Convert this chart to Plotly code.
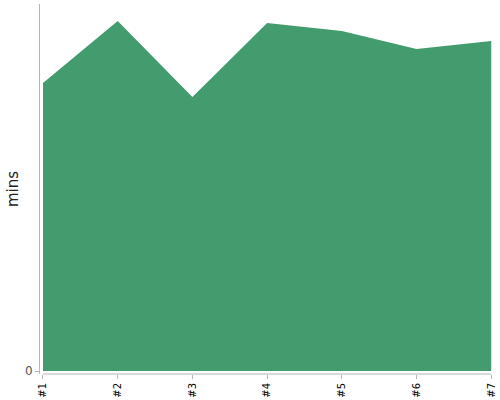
import plotly.graph_objects as go

# datos (minutos)
categorias = ["#1", "#2", "#3", "#4", "#5", "#6", "#7"]
minutos = [28.8, 35.0, 27.4, 34.8, 34.0, 32.2, 33.0]

verde = "#439c6d"
gris = "#b5b5b5"

fig = go.Figure(go.Scatter(
    x=categorias, y=minutos,
    mode="lines", fill="tozeroy",
    fillcolor=verde, line=dict(color=verde, width=0),
    hoverinfo="x+y",
))

# linea del eje x separada del eje y
fig.add_shape(type="line", xref="x", yref="paper",
              x0=0, x1=6, y0=0, y1=0,
              line=dict(color=gris, width=1))

fig.update_layout(
    width=500, height=400,
    margin=dict(l=40, r=8, t=4, b=26),
    plot_bgcolor="white", paper_bgcolor="white",
    showlegend=False,
    font=dict(family="DejaVu Sans"),
)
fig.update_xaxes(
    type="category", range=[-0.04, 6.01],
    showgrid=False, zeroline=False, showline=False,
    ticks="outside", ticklen=4, tickcolor=gris,
    tickangle=-90, tickfont=dict(size=10, color="black"),
    automargin=False,
)
fig.update_yaxes(
    range=[-0.3, 36.7],
    showgrid=False, zeroline=False,
    showline=True, linecolor=gris, linewidth=1,
    tickvals=[0], ticktext=["0"],
    ticks="outside", ticklen=4, tickcolor=gris,
    tickfont=dict(size=12, color="#555555"),
    title=dict(text="mins", font=dict(family="DejaVu Sans", size=15, color="#222222"),
               standoff=2),
    automargin=False,
)

# quitar el margen del body para que la figura quede en la esquina
fig.write_html("out.html", config={"displayModeBar": False},
               post_script="document.body.style.margin='0';")
